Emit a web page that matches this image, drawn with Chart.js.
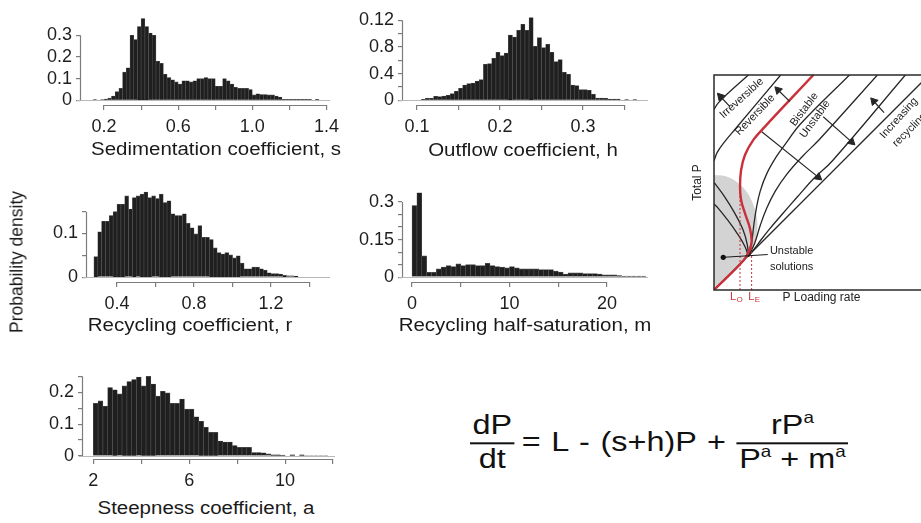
<!DOCTYPE html>
<html>
<head>
<meta charset="utf-8">
<script src="https://cdn.jsdelivr.net/npm/chart.js@4.4.1/dist/chart.umd.min.js"></script>
<style>
  html, body { margin: 0; padding: 0; background: #fff; }
  body { width: 921px; height: 523px; overflow: hidden; position: relative;
         font-family: 'Liberation Sans', Arial, Helvetica, sans-serif; color: #1a1a1a; }
  canvas { position: absolute; }
  .ttl { position: absolute; font-size: 17.5px; white-space: nowrap;
         transform: translate(-50%, -50%) scaleX(1.17); }
  #ylab { position: absolute; left: 17px; top: 262px; font-size: 17.5px; white-space: nowrap;
          transform: translate(-50%, -50%) rotate(-90deg); }
  #eq { position: absolute; left: 470px; top: 443px; transform-origin: 0 50%;
        transform: translateY(-50%) scaleX(1.2); display: flex; align-items: center;
        font-size: 27px; line-height: 1.1; color: #111; white-space: nowrap; }
  .frac { display: inline-flex; flex-direction: column; align-items: stretch; text-align: center; }
  .frac span:first-child { border-bottom: 2px solid #111; padding: 0 2px 1px; }
  .frac span:last-child { padding: 1px 2px 0; }
  .mid { margin: 0 9px 0 6px; word-spacing: 1.5px; }
  sup { font-size: 0.58em; vertical-align: 0.7em; line-height: 0; }
</style>
</head>
<body>
<canvas id="sed" width="345" height="140" style="left:0;top:0"></canvas>
<canvas id="out" width="310" height="140" style="left:345px;top:0"></canvas>
<canvas id="rec" width="335" height="142" style="left:0;top:175px"></canvas>
<canvas id="half" width="310" height="142" style="left:345px;top:175px"></canvas>
<canvas id="steep" width="340" height="139" style="left:0;top:355px"></canvas>
<canvas id="diagram" width="255" height="246" style="left:680px;top:62px"></canvas>

<div class="ttl" style="left:216px;top:149px">Sedimentation coefficient, s</div>
<div class="ttl" style="left:523px;top:150px">Outflow coefficient, h</div>
<div class="ttl" style="left:190px;top:325px">Recycling coefficient, r</div>
<div class="ttl" style="left:525px;top:325px">Recycling half-saturation, m</div>
<div class="ttl" style="left:206px;top:508px">Steepness coefficient, a</div>
<div id="ylab">Probability density</div>

<div id="eq">
  <div class="frac"><span>dP</span><span>dt</span></div>
  <span class="mid">= L - (s+h)P +</span>
  <div class="frac"><span>rP<sup>a</sup></span><span>P<sup>a</sup> + m<sup>a</sup></span></div>
</div>

<script>
const FONT = "'Liberation Sans', Arial, Helvetica, sans-serif";
const TXT = '#1e1e1e';
const AXIS = '#7c7c7c';
const INK = '#1f1f1f';
const RED = '#c9303a';

// Sedimentation coefficient, s  (bins of 0.02 starting at 0.14)
const sedStart = 0.14, sedBin = 0.02;
const sedDensity = [0.004, 0, 0.003, 0.006, 0.01, 0.02, 0.04, 0.055, 0.13, 0.15,
  0.30, 0.28, 0.34, 0.377, 0.34, 0.31, 0.30, 0.18, 0.17, 0.12,
  0.105, 0.095, 0.085, 0.075, 0.09, 0.09, 0.085, 0.09, 0.10, 0.10,
  0.105, 0.10, 0.10, 0.065, 0.065, 0.10, 0.09, 0.075, 0.06, 0.055,
  0.055, 0.055, 0.05, 0.025, 0.03, 0.027, 0.027, 0.025, 0.025, 0.02,
  0.015, 0.005, 0.005, 0.005, 0.005, 0.005, 0.005, 0.005, 0.005, 0, 0.005];
const sedXTicks = [0.2, 0.4, 0.6, 0.8, 1.0, 1.2, 1.4];
const sedXLabels = ['0.2', '', '0.6', '', '1.0', '', '1.4'];
const sedYTicks = [0, 0.1, 0.2, 0.3];
const sedYLabels = ['0', '0.1', '0.2', '0.3'];

// Outflow coefficient, h  (bins of 0.005 starting at 0.105)
const outStart = 0.105, outBin = 0.005;
const outDensity = [0.15, 0.3, 0.3, 0.6, 0.55, 0.65, 0.75, 1.0, 1.35, 1.8,
  2.3, 2.5, 2.6, 2.9, 3.1, 5.4, 5.5, 6.3, 7.2, 6.7,
  7.1, 9.8, 9.5, 10.5, 11.4, 10.5, 12.4, 8.1, 9.4, 7.9,
  8.4, 7.2, 5.8, 6.1, 4.2, 3.9, 2.3, 2.2, 1.6, 1.6,
  1.5, 0.9, 0.35, 0.35, 0.3, 0.2, 0.2, 0.2, 0, 0.12, 0, 0.12];
const outXTicks = [0.1, 0.15, 0.2, 0.25, 0.3, 0.35];
const outXLabels = ['0.1', '', '0.2', '', '0.3', ''];
const outYTicks = [0, 2, 4, 6, 8, 10, 12];
const outYLabels = ['0', '', '0.4', '', '0.8', '', '0.12'];

// Recycling coefficient, r  (bins of 0.02 starting at 0.28)
const recStart = 0.28, recBin = 0.02;
const recDensity = [0.047, 0.104, 0.128, 0.128, 0.141, 0.150, 0.167, 0.167, 0.186, 0.156,
  0.182, 0.186, 0.19, 0.195, 0.182, 0.186, 0.18, 0.19, 0.171, 0.175,
  0.145, 0.141, 0.141, 0.145, 0.123, 0.113, 0.099, 0.118, 0.091, 0.091,
  0.086, 0.067, 0.056, 0.053, 0.056, 0.051, 0.044, 0.049, 0.032, 0.019,
  0.019, 0.023, 0.023, 0.019, 0.016, 0.010, 0.008, 0.008, 0.007, 0.004,
  0.003, 0.003, 0.002];
const recXTicks = [0.4, 0.6, 0.8, 1.0, 1.2, 1.4];
const recXLabels = ['0.4', '', '0.8', '', '1.2', ''];
const recYTicks = [0, 0.05, 0.1, 0.15];
const recYLabels = ['0', '', '0.1', ''];

// Recycling half-saturation, m  (bins of 0.5 starting at 0)
const halfStart = 0, halfBin = 0.5;
const halfDensity = [0.286, 0.337, 0.085, 0.019, 0.019, 0.033, 0.040, 0.046, 0.042, 0.053,
  0.046, 0.050, 0.050, 0.046, 0.046, 0.055, 0.046, 0.042, 0.040, 0.037,
  0.042, 0.037, 0.033, 0.033, 0.033, 0.033, 0.030, 0.030, 0.030, 0.024,
  0.020, 0.012, 0.017, 0.017, 0.017, 0.014, 0.014, 0.014, 0.012, 0.009,
  0.009, 0.009, 0.006, 0.004, 0.004, 0.004, 0.004, 0.004];
const halfXTicks = [0, 5, 10, 15, 20];
const halfXLabels = ['0', '', '10', '', '20'];
const halfYTicks = [0, 0.05, 0.1, 0.15, 0.2, 0.25, 0.3];
const halfYLabels = ['0', '', '', '0.15', '', '', '0.3'];

// Steepness coefficient, a  (bins of 0.2 starting at 2)
const steepStart = 2, steepBin = 0.2;
const steepDensity = [0.165, 0.173, 0.156, 0.215, 0.208, 0.195, 0.22, 0.234, 0.24, 0.248,
  0.22, 0.25, 0.226, 0.188, 0.203, 0.198, 0.165, 0.165, 0.179, 0.147,
  0.147, 0.123, 0.109, 0.09, 0.074, 0.074, 0.047, 0.044, 0.044, 0.033,
  0.027, 0.027, 0.027, 0.011, 0.011, 0.01, 0.0065, 0.004, 0.004, 0.003,
  0, 0.004, 0, 0.004, 0.0015, 0.0015, 0.0015, 0.0015, 0.0015];
const steepXTicks = [2, 4, 6, 8, 10, 12];
const steepXLabels = ['2', '', '6', '', '10', ''];
const steepYTicks = [0, 0.05, 0.1, 0.15, 0.2, 0.25];
const steepYLabels = ['0', '', '0.1', '', '0.2', ''];

// Schematic: total P against P loading rate (both 0..1), curves
const noRecycling = [[0, 0], [1, 1]];
const irrevUpper1 = [[0, 0.84], [0.02, 0.87], [0.06, 0.91], [0.16, 1.0]];
const irrevLower1 = [[0.16, 0.155], [0.145, 0.2], [0.11, 0.26], [0.06, 0.33], [0.02, 0.38], [0, 0.40]];
const irrevUpper2 = [[0, 0.60], [0.015, 0.64], [0.05, 0.69], [0.10, 0.75], [0.31, 1.0]];
const irrevLower2 = [[0.16, 0.155], [0.155, 0.21], [0.135, 0.28], [0.095, 0.36], [0.045, 0.44], [0, 0.50]];
const thresholdCurve = [[0, 0], [0.136, 0.136], [0.164, 0.183], [0.175, 0.225], [0.167, 0.287],
  [0.144, 0.357], [0.126, 0.419], [0.121, 0.481], [0.126, 0.558], [0.144, 0.628],
  [0.183, 0.698], [0.237, 0.76], [0.462, 1.0]];
const bistableEdge = [[0.16, 0.155], [0.175, 0.22], [0.185, 0.30], [0.197, 0.38], [0.215, 0.46],
  [0.245, 0.54], [0.29, 0.62], [0.34, 0.69], [0.40, 0.77], [0.63, 1.0]];
const monotone1 = [[0.16, 0.155], [0.19, 0.22], [0.215, 0.30], [0.245, 0.38], [0.285, 0.46],
  [0.34, 0.54], [0.41, 0.62], [0.49, 0.70], [0.76, 1.0]];
const monotone2 = [[0.16, 0.155], [0.205, 0.215], [0.255, 0.28], [0.315, 0.35], [0.385, 0.43],
  [0.465, 0.52], [0.55, 0.60], [0.89, 1.0]];
const unstableZone = [[0, 0], [0.16, 0.155], [0.191, 0.225], [0.202, 0.31], [0.186, 0.388],
  [0.152, 0.457], [0.105, 0.504], [0.051, 0.53], [0, 0.535]];
const loadLO = [[0.121, 0], [0.121, 0.46]];
const loadLE = [[0.175, 0], [0.175, 0.225]];
const pointer = [[0.043, 0.152], [0.25, 0.165]];
const arrows = [
  { from: [0.074, 0.853], to: [0.03, 0.90], angle: -42 },
  { from: [0.353, 0.876], to: [0.298, 0.93], angle: -45 },
  { from: [0.222, 0.736], to: [0.485, 0.525], angle: 129 },
  { from: [0.508, 0.806], to: [0.64, 0.689], angle: 132 },
  { from: [0.791, 0.825], to: [0.743, 0.878], angle: -42 }
];
const notes = [
  { text: 'Irreversible', at: [0.129, 0.892], angle: -42 },
  { text: 'Reversible', at: [0.191, 0.814], angle: -46 },
  { text: 'Bistable', at: [0.42, 0.84], angle: -53 },
  { text: 'Unstable', at: [0.47, 0.795], angle: -54 },
  { text: 'Increasing', at: [0.86, 0.80], angle: -48 },
  { text: 'recycling', at: [0.91, 0.745], angle: -45 }
];

Chart.defaults.font.family = FONT;
Chart.defaults.color = TXT;
Chart.defaults.animation = false;

// R-like detached axes: axis lines run only between first and last tick
const rAxes = {
  id: 'rAxes',
  beforeDatasetsDraw(chart) {
    const { ctx, chartArea: a, scales: { y } } = chart;
    const y0 = Math.round(y.getPixelForValue(0)) + 0.5;
    ctx.save();
    ctx.strokeStyle = '#b8b8b8';
    ctx.lineWidth = 1;
    ctx.beginPath();
    ctx.moveTo(a.left - 3, y0);
    ctx.lineTo(a.right, y0);
    ctx.stroke();
    ctx.restore();
  },
  afterDraw(chart) {
    const { ctx, chartArea: a, scales: { x, y } } = chart;
    const xt = x.ticks, yt = y.ticks;
    ctx.save();
    ctx.strokeStyle = AXIS;
    ctx.lineWidth = 1.2;
    ctx.beginPath();
    ctx.moveTo(a.left + 0.5, y.getPixelForValue(yt[0].value));
    ctx.lineTo(a.left + 0.5, y.getPixelForValue(yt[yt.length - 1].value));
    ctx.moveTo(x.getPixelForValue(xt[0].value), a.bottom + 0.5);
    ctx.lineTo(x.getPixelForValue(xt[xt.length - 1].value), a.bottom + 0.5);
    ctx.stroke();
    ctx.restore();
  }
};

function histogram(id, start, bin, density, xTicks, xLabels, yTicks, yLabels, f) {
  const points = density.map((d, i) => ({ x: start + bin * (i + 0.5), y: d }));
  return new Chart(document.getElementById(id), {
    type: 'bar',
    data: {
      datasets: [{
        data: points,
        backgroundColor: INK,
        borderColor: '#505050',
        borderWidth: 0.6,
        barPercentage: 1,
        categoryPercentage: 1
      }]
    },
    options: {
      responsive: false,
      events: [],
      layout: { autoPadding: false, padding: { top: f.padTop, right: f.padRight, bottom: 0, left: 0 } },
      plugins: { legend: { display: false }, tooltip: { enabled: false } },
      scales: {
        x: {
          type: 'linear', offset: false, min: f.xMin, max: f.xMax,
          afterBuildTicks: s => { s.ticks = xTicks.map(v => ({ value: v })); },
          afterFit: s => { s.height = f.xH; },
          grid: { display: true, drawOnChartArea: false, drawTicks: true, tickLength: 5, color: AXIS, lineWidth: 1.2, offset: false },
          border: { display: false },
          ticks: { autoSkip: false, maxRotation: 0, padding: 6, color: TXT, font: { size: 18 },
                   callback: (v, i) => xLabels[i] }
        },
        y: {
          min: f.yMin, max: f.yMax,
          afterBuildTicks: s => { s.ticks = yTicks.map(v => ({ value: v })); },
          afterFit: s => { s.width = f.yW; },
          grid: { display: true, drawOnChartArea: false, drawTicks: true, tickLength: 4, color: AXIS, lineWidth: 1.2 },
          border: { display: false },
          ticks: { autoSkip: false, padding: 4, color: TXT, font: { size: 18 },
                   callback: (v, i) => yLabels[i] }
        }
      }
    },
    plugins: [rAxes]
  });
}

histogram('sed', sedStart, sedBin, sedDensity, sedXTicks, sedXLabels, sedYTicks, sedYLabels,
  { yW: 80, xH: 35, padTop: 8, padRight: 5, xMin: 0.070, xMax: 1.421, yMin: -0.0214, yMax: 0.394 });
histogram('out', outStart, outBin, outDensity, outXTicks, outXLabels, outYTicks, outYLabels,
  { yW: 57, xH: 35, padTop: 8, padRight: 7, xMin: 0.0819, xMax: 0.3783, yMin: -0.697, yMax: 12.83 });
histogram('rec', recStart, recBin, recDensity, recXTicks, recXLabels, recYTicks, recYLabels,
  { yW: 86, xH: 35, padTop: 12, padRight: 5, xMin: 0.239, xMax: 1.506, yMin: -0.0111, yMax: 0.2 });
histogram('half', halfStart, halfBin, halfDensity, halfXTicks, halfXLabels, halfYTicks, halfYLabels,
  { yW: 57, xH: 35, padTop: 12, padRight: 7, xMin: -1.026, xMax: 24.2, yMin: -0.0194, yMax: 0.349 });
histogram('steep', steepStart, steepBin, steepDensity, steepXTicks, steepXLabels, steepYTicks, steepYLabels,
  { yW: 82, xH: 35, padTop: 6, padRight: 5, xMin: 1.529, xMax: 12.08, yMin: -0.0094, yMax: 0.2706 });

// ---- schematic ----
const toXY = pts => pts.map(([x, y]) => ({ x, y }));
function curve(pts, color, width, order, extra) {
  return Object.assign({
    data: toXY(pts), showLine: true, borderColor: color, borderWidth: width,
    pointRadius: 0, tension: 0.4, fill: false, order
  }, extra || {});
}

const diagramNotes = {
  id: 'diagramNotes',
  afterDraw(chart) {
    const { ctx, chartArea: a, scales: { x, y } } = chart;
    ctx.save();
    ctx.strokeStyle = '#2a2a2a';
    ctx.lineWidth = 1.5;
    ctx.strokeRect(a.left, a.top, a.right - a.left, a.bottom - a.top);

    ctx.fillStyle = '#222';
    ctx.font = '11px ' + FONT;
    ctx.textAlign = 'center';
    ctx.textBaseline = 'middle';
    notes.forEach(n => {
      ctx.save();
      ctx.translate(x.getPixelForValue(n.at[0]), y.getPixelForValue(n.at[1]));
      ctx.rotate(n.angle * Math.PI / 180);
      ctx.fillText(n.text, 0, 0);
      ctx.restore();
    });

    ctx.textAlign = 'left';
    ctx.fillText('Unstable', x.getPixelForValue(0.26), y.getPixelForValue(0.181));
    ctx.fillText('solutions', x.getPixelForValue(0.26), y.getPixelForValue(0.107));

    // L_O and L_E under the frame
    ctx.fillStyle = RED;
    [['O', 0.098], ['E', 0.182]].forEach(([sub, v]) => {
      const px = x.getPixelForValue(v) - 5;
      const py = a.bottom + 7;
      ctx.font = '11px ' + FONT;
      ctx.fillText('L', px, py);
      ctx.font = '8px ' + FONT;
      ctx.fillText(sub, px + 6.5, py + 2.5);
    });
    ctx.restore();
  }
};

const diagramSets = [
  curve(unstableZone, 'rgba(0,0,0,0)', 0, 20, { fill: 'shape', backgroundColor: '#d3d3d3', tension: 0.35 }),
  curve(noRecycling, '#262626', 1.3, 5, { tension: 0 }),
  curve(irrevUpper1, '#262626', 1.3, 5),
  curve(irrevLower1, '#262626', 1.3, 5),
  curve(irrevUpper2, '#262626', 1.3, 5),
  curve(irrevLower2, '#262626', 1.3, 5),
  curve(bistableEdge, '#262626', 1.3, 5),
  curve(monotone1, '#262626', 1.3, 5),
  curve(monotone2, '#262626', 1.3, 5),
  curve(loadLO, RED, 1, 3, { tension: 0, borderDash: [2, 2] }),
  curve(loadLE, RED, 1, 3, { tension: 0, borderDash: [2, 2] }),
  curve(thresholdCurve, RED, 2.4, 2),
  curve(pointer, '#1a1a1a', 1, 1, { tension: 0, pointRadius: [2.6, 0], pointBackgroundColor: '#111', pointBorderWidth: 0 })
].concat(arrows.map(ar => curve([ar.from, ar.to], '#262626', 1.2, 0, {
  tension: 0, pointRadius: [0, 4.5], pointStyle: 'triangle', pointRotation: [0, ar.angle],
  pointBackgroundColor: '#262626', pointBorderColor: '#262626', pointBorderWidth: 1
})));

new Chart(document.getElementById('diagram'), {
  type: 'scatter',
  data: { datasets: diagramSets },
  options: {
    responsive: false,
    events: [],
    layout: { autoPadding: false, padding: { top: 13, right: 6, bottom: 0, left: 0 } },
    plugins: { legend: { display: false }, tooltip: { enabled: false } },
    scales: {
      x: {
        type: 'linear', min: 0, max: 1,
        afterFit: s => { s.height = 18; },
        ticks: { display: false }, grid: { display: false }, border: { display: false },
        title: { display: true, text: 'P Loading rate', color: '#222', font: { size: 12 }, padding: { top: 0, bottom: 3 } }
      },
      y: {
        type: 'linear', min: 0, max: 1,
        afterFit: s => { s.width = 34; },
        ticks: { display: false }, grid: { display: false }, border: { display: false },
        title: { display: true, text: 'Total P', color: '#222', font: { size: 12 }, padding: { top: 10, bottom: 0 } }
      }
    }
  },
  plugins: [diagramNotes]
});
</script>
</body>
</html>
